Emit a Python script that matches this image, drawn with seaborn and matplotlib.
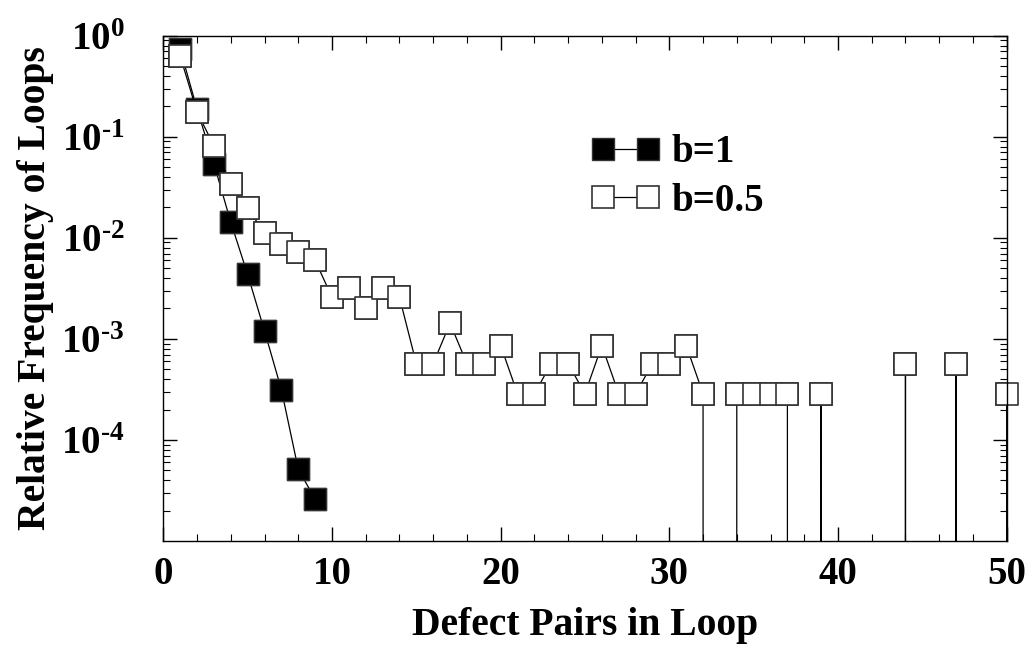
import numpy as np
import pandas as pd
import matplotlib
matplotlib.use("Agg")
import matplotlib.pyplot as plt
import seaborn as sns
from matplotlib.ticker import FixedLocator, LogLocator, MultipleLocator, NullFormatter

# ---- data ----
x_b1 = [1, 2, 3, 4, 5, 6, 7, 8, 9]
y_b1 = [0.74, 0.188, 0.0542, 0.0143, 0.00434, 0.00120, 3.15e-4, 5.14e-5, 2.6e-5]

x_b05 = list(range(1, 51))
y_b05 = [0.63, 0.176, 0.0816, 0.034, 0.0196, 0.0112, 0.00865, 0.0072, 0.00598, 0.00259,
         0.00316, 0.0020, 0.00316, 0.00259, 5.7e-4, 5.7e-4, 1.43e-3, 5.7e-4, 5.7e-4, 8.6e-4,
         2.87e-4, 2.87e-4, 5.7e-4, 5.7e-4, 2.87e-4, 8.6e-4, 2.87e-4, 2.87e-4, 5.7e-4, 5.7e-4,
         8.6e-4, 2.87e-4, 0, 2.87e-4, 2.87e-4, 2.87e-4, 2.87e-4, 0, 2.87e-4, 0,
         0, 0, 0, 5.7e-4, 0, 0, 5.7e-4, 0, 0, 2.87e-4]

series_labels = ["b=1", "b=0.5"]
x_ticks = [0, 10, 20, 30, 40, 50]
x_tick_labels = ["0", "10", "20", "30", "40", "50"]
y_ticks = [1e-4, 1e-3, 1e-2, 1e-1, 1e0]
y_tick_labels = [r"$10^{\text{-4}}$", r"$10^{\text{-3}}$", r"$10^{\text{-2}}$",
                 r"$10^{\text{-1}}$", r"$10^{\text{0}}$"]
x_label = "Defect Pairs in Loop"
y_label = "Relative Frequency of Loops"

df1 = pd.DataFrame({"x": x_b1, "y": y_b1})
df2 = pd.DataFrame({"x": x_b05, "y": y_b05})

sns.set_theme(style="ticks")
plt.rcParams["font.family"] = ["Liberation Serif", "DejaVu Serif"]
plt.rcParams["font.weight"] = "bold"
plt.rcParams["text.color"] = "black"
plt.rcParams["axes.labelcolor"] = "black"
plt.rcParams["xtick.color"] = "black"
plt.rcParams["ytick.color"] = "black"
plt.rcParams["mathtext.fontset"] = "custom"
plt.rcParams["mathtext.rm"] = "Liberation Serif:bold"
plt.rcParams["mathtext.bf"] = "Liberation Serif:bold"
plt.rcParams["mathtext.it"] = "Liberation Serif:bold"
plt.rcParams["mathtext.default"] = "rm"

fig = plt.figure(figsize=(10.31, 6.52), dpi=100)
ax = fig.add_axes([0.1584, 0.1702, 0.8180, 0.7750])
ax.set_yscale("log")

msize = 16.5
edge = "#333333"
sns.lineplot(data=df1, x="x", y="y", ax=ax, color="black", linewidth=0.9,
             marker="s", markersize=msize, markerfacecolor="black",
             markeredgecolor=edge, markeredgewidth=1.0, label=series_labels[0], zorder=2)
sns.lineplot(data=df2, x="x", y="y", ax=ax, color="black", linewidth=0.9,
             marker="s", markersize=msize, markerfacecolor="white",
             markeredgecolor=edge, markeredgewidth=1.2, label=series_labels[1], zorder=3)

# markers drawn again without clipping (they stick out past the frame in the original)
pos1 = df1[df1["y"] > 0]
pos2 = df2[df2["y"] > 0]
sns.scatterplot(data=pos1, x="x", y="y", ax=ax, marker="s", s=msize ** 2,
                color="black", edgecolor=edge, linewidth=1.0, clip_on=False,
                zorder=2.5, legend=False)
sns.scatterplot(data=pos2, x="x", y="y", ax=ax, marker="s", s=msize ** 2,
                color="white", edgecolor=edge, linewidth=1.2, clip_on=False,
                zorder=3.5, legend=False)

ax.set_xlim(0, 50)
ax.set_ylim(1e-5, 1.0)

ax.xaxis.set_major_locator(FixedLocator(x_ticks))
ax.set_xticklabels(x_tick_labels)
ax.xaxis.set_minor_locator(MultipleLocator(2))
ax.yaxis.set_major_locator(FixedLocator(y_ticks))
ax.set_yticklabels(y_tick_labels)
ax.yaxis.set_minor_locator(LogLocator(base=10, subs=np.arange(2, 10)))
ax.yaxis.set_minor_formatter(NullFormatter())

ax.tick_params(which="both", direction="in", top=True, right=True, colors="black")
ax.tick_params(which="major", length=10, width=1.0, labelsize=28)
ax.tick_params(axis="x", which="major", pad=11)
ax.tick_params(axis="y", which="major", pad=28)
ax.tick_params(which="minor", length=5, width=0.8)
for lab in ax.get_xticklabels() + ax.get_yticklabels():
    lab.set_fontweight("bold")
    lab.set_color("black")
for s in ax.spines.values():
    s.set_linewidth(1.0)
    s.set_color("black")
    s.set_zorder(5)

ax.set_xlabel(x_label, fontsize=28.5, fontweight="bold", labelpad=10, color="black")
ax.set_ylabel(y_label, fontsize=28.5, fontweight="bold", labelpad=5, color="black")

leg = ax.legend(loc="upper left", bbox_to_anchor=(0.508, 0.805), frameon=False,
                numpoints=2, handlelength=1.75, handletextpad=0.3, borderpad=0,
                borderaxespad=0, labelspacing=0.3, prop={"size": 28, "weight": "bold"})
for t in leg.get_texts():
    t.set_color("black")

fig.savefig("out.png", dpi=100)
